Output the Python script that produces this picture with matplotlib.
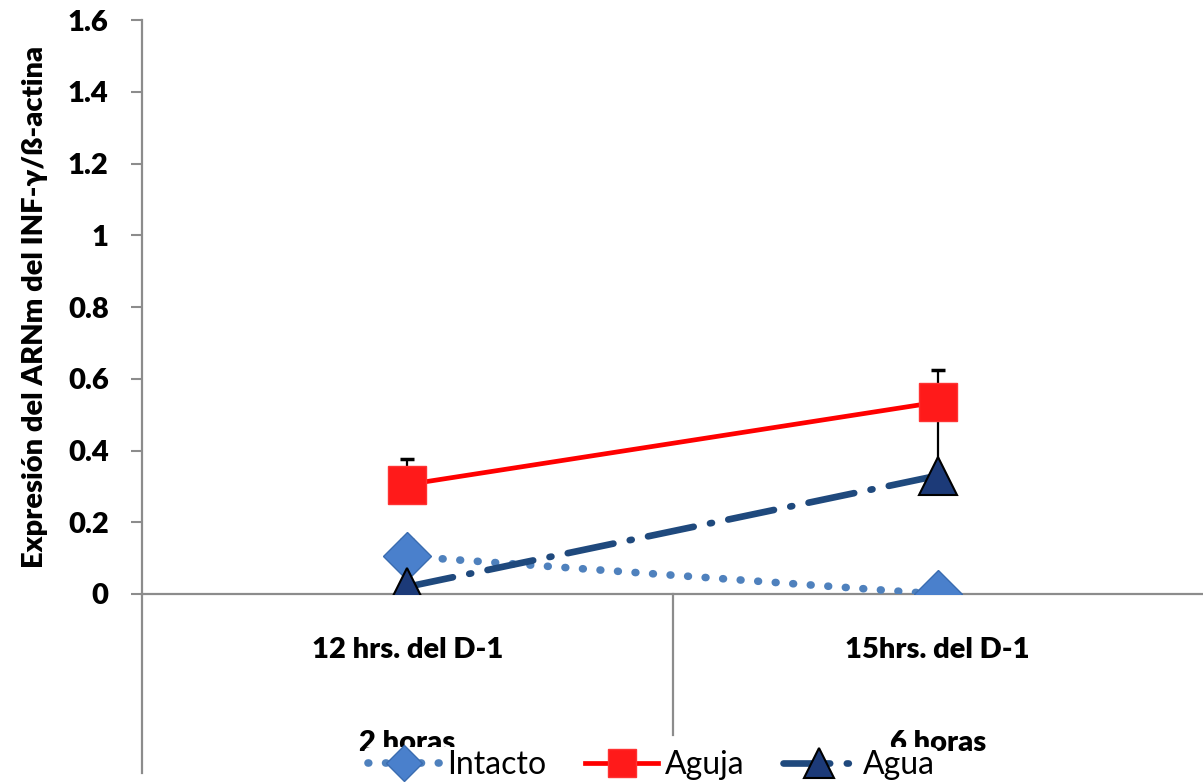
import matplotlib.pyplot as plt
from matplotlib.lines import Line2D
import matplotlib.transforms as mtransforms

plt.rcParams['font.family'] = ['Lato', 'DejaVu Sans']

categories = ['12 hrs. del D-1', '15hrs. del D-1']
groups = ['2 horas', '6 horas']
x = [0.5, 1.5]

intacto = [0.105, 0.0]
intacto_err = [0.045, 0.0]
aguja = [0.305, 0.535]
aguja_err = [0.07, 0.09]
agua = [0.02, 0.33]
agua_err = [0.0, 0.17]

yticks = [0, 0.2, 0.4, 0.6, 0.8, 1.0, 1.2, 1.4, 1.6]
ytick_labels = ['0', '0.2', '0.4', '0.6', '0.8', '1', '1.2', '1.4', '1.6']

axis_grey = '#8c8c8c'
bold = 'heavy'

fig = plt.figure(figsize=(12.03, 7.84), dpi=100)
ax = fig.add_axes([142 / 1203, 190 / 784, 1061 / 1203, 574 / 784])

# error bars (upper side only)
for vals, errs in [(intacto, intacto_err), (aguja, aguja_err), (agua, agua_err)]:
    ax.errorbar(x, vals, yerr=[[0] * len(errs), errs], fmt='none',
                ecolor='black', elinewidth=1.6, capsize=5, capthick=2.5, zorder=2)

ax.plot(x, intacto, linestyle=(0, (0.1, 2.2)), dash_capstyle='round', color='#4f81bd',
        lw=5.5, marker='D', markersize=24, markerfacecolor='#4a80cc',
        markeredgecolor='#3a6cb0', markeredgewidth=1, label='Intacto', zorder=3)
ax.plot(x, aguja, linestyle='-', color='#ff0000', lw=3.4, marker='s', markersize=27,
        markerfacecolor='#ff1a1a', markeredgecolor='#ff3333', markeredgewidth=1,
        label='Aguja', zorder=4)
ax.plot(x, agua, linestyle=(0, (7, 2.5, 0.3, 2.5)), color='#1f497d', lw=4.8,
        dash_capstyle='round', marker='^', markersize=28,
        markerfacecolor='#1c3a78', markeredgecolor='black', markeredgewidth=1.5,
        label='Agua', zorder=3)

ax.set_xlim(0, 2)
ax.set_ylim(0, 1.6)
ax.set_yticks(yticks)
ax.set_yticklabels(ytick_labels, fontsize=21, fontweight=bold)
ax.set_xticks([])
ax.tick_params(axis='y', direction='out', length=8, width=1.5, color=axis_grey, pad=16)

for side in ['top', 'right']:
    ax.spines[side].set_visible(False)
for side in ['left', 'bottom']:
    ax.spines[side].set_color(axis_grey)
    ax.spines[side].set_linewidth(1.6)
ax.spines['bottom'].set_position(('data', 0))

# multi-level category axis: dividers below the plot
ax.add_line(Line2D([0, 0], [0, -0.312], transform=ax.transAxes, color=axis_grey,
                   lw=1.6, clip_on=False))
ax.add_line(Line2D([0.5, 0.5], [0, -0.246], transform=ax.transAxes, color=axis_grey,
                   lw=1.6, clip_on=False))

trans = mtransforms.blended_transform_factory(ax.transData, ax.transAxes)
for xi, lab in zip(x, categories):
    ax.text(xi, -0.097, lab, transform=trans, ha='center', va='center',
            fontsize=21, fontweight=bold)
for xi, lab in zip(x, groups):
    ax.text(xi, -0.26, lab, transform=trans, ha='center', va='center',
            fontsize=21, fontweight=bold)

ax.set_ylabel('Expresión del ARNm del INF-γ/ß-actina', fontsize=21, fontweight=bold,
              labelpad=14)

leg = fig.legend(loc='center', bbox_to_anchor=(651 / 1203, 19 / 784), ncol=3,
                 frameon=True, fontsize=23, handlelength=2.3, columnspacing=1.2,
                 handletextpad=0.2, borderpad=0.1, markerscale=0.75)
leg.get_frame().set_facecolor('white')
leg.get_frame().set_edgecolor('none')
leg.get_frame().set_alpha(1)

fig.savefig('out.png', dpi=100)
